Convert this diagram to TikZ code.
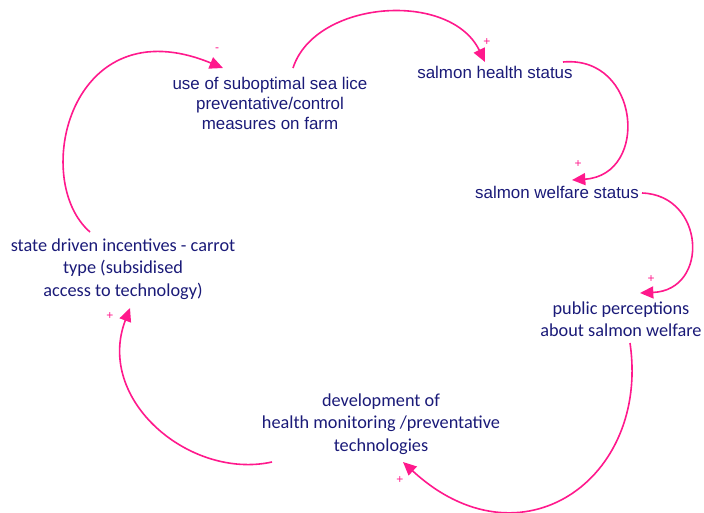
\documentclass[tikz,border=0pt]{standalone}
\usepackage{fontspec}
\setmainfont{Liberation Sans}
\newfontfamily\calib{Carlito}
\usetikzlibrary{arrows.meta}
\definecolor{linkpink}{RGB}{255,25,140}
\definecolor{txtnavy}{RGB}{26,26,120}
\tikzset{
  var/.style={text=txtnavy, align=center, inner sep=0pt},
  arial/.style={var, font=\fontsize{12.7}{15}\selectfont},
  cal/.style={var, font=\calib\fontsize{13.7}{16.8}\selectfont},
  link/.style={draw=linkpink, line width=1.2pt, -{Triangle[length=10pt,width=9pt]}},
  pol/.style={text=linkpink, font=\fontsize{9}{10}\selectfont, inner sep=0pt}
}
\begin{document}
\begin{tikzpicture}[x=0.75pt,y=-0.75pt]
\useasboundingbox (0,0) rectangle (704,512);
\node[arial] (use) at (270,103) {use of suboptimal sea lice\\preventative/control\\measures on farm};
\node[arial] (health) at (495,72) {salmon health status};
\node[arial] (welfare) at (557,192) {salmon welfare status};
\node[cal] (public) at (621,319) {public perceptions\\about salmon welfare};
\node[cal] (dev) at (381,424) {development of\\health monitoring /preventative\\technologies};
\node[cal] (state) at (123,269) {state driven incentives - carrot\\type (subsidised\\access to technology)};

\draw[link] ([shift={(23,-35)}]use.center) .. controls (315,0) and (450,-10) .. ([shift={(-10,-10)}]health.center);
\draw[link] ([shift={(68,-10)}]health.center) .. controls (640,55) and (650,175) .. ([shift={(15,-12)}]welfare.center);
\draw[link] ([shift={(85,1)}]welfare.center) .. controls (705,195) and (710,290) .. ([shift={(19,-26)}]public.center);
\draw[link] ([shift={(9,24)}]public.center) .. controls (650,480) and (520,570) .. ([shift={(22,38)}]dev.center);
\draw[link] ([shift={(-109,38)}]dev.center) .. controls (190,480) and (95,400) .. ([shift={(7,39)}]state.center);
\draw[link] ([shift={(-33,-37)}]state.center) .. controls (30,180) and (70,5) .. ([shift={(-47,-35)}]use.center);

\node[pol] (p1) at (487,42) {+};
\node[pol] (p2) at (578,164) {+};
\node[pol] (p3) at (651,279) {+};
\node[pol] (p4) at (400,480) {+};
\node[pol] (p5) at (110,316) {+};
\node[pol] (m6) at (217,50) {-};
\end{tikzpicture}
\end{document}
